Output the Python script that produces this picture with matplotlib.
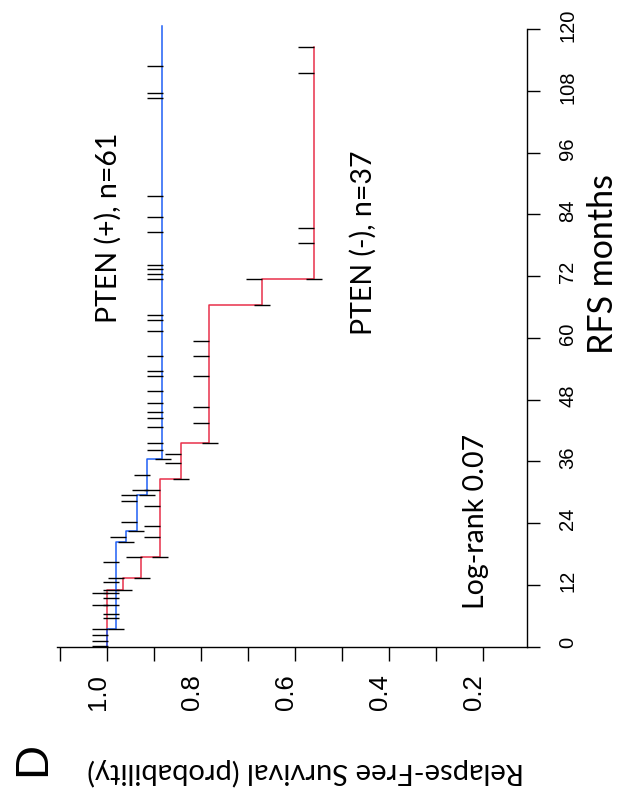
import numpy as np
import matplotlib
matplotlib.use('Agg')
import matplotlib.pyplot as plt
from matplotlib.transforms import ScaledTranslation

# PTEN (+): event times (months) and survival after each event
pos_times = [3.4, 20.25, 22.39, 29.38, 36.38]
pos_surv = [0.981, 0.9585, 0.9364, 0.9138, 0.8819]
pos_end = 120.6

# PTEN (-)
neg_times = [11.04, 13.25, 17.33, 32.49, 39.49, 66.42, 71.36]
neg_surv = [0.9649, 0.9266, 0.8862, 0.8415, 0.7819, 0.6691, 0.5585]
neg_end = 116.6

# censor ticks: month and survival at the upper end of the tick
pos_cens_t = [0.16, 1.01, 2.29, 3.40, 3.40,
              5.48, 6.26, 8.06, 9.37, 10.40, 11.04, 12.48, 16.36,
              20.25, 21.22, 22.39, 24.14, 28.27, 29.38, 29.38, 30.35, 33.27, 36.38,
              38.13, 39.49, 42.60, 44.34, 45.51, 47.32, 49.59, 52.51, 53.48, 56.39,
              61.25, 63.39, 64.36, 71.36, 72.39, 73.36, 74.19, 80.55, 83.40, 87.49,
              106.59, 107.56, 112.75]
pos_cens_s = [1.0321, 1.0321, 1.0321, 1.0321, 0.9974,
              1.0074, 1.0074, 1.0074, 1.0074, 1.0074, 1.0074, 1.0074, 1.0074,
              0.9762, 0.9932, 0.9543, 0.9698, 0.9698, 0.9698, 0.9315, 0.9457, 0.9421, 0.8974,
              0.9151, 0.9151, 0.9151, 0.9151, 0.9151, 0.9151, 0.9151, 0.9151, 0.9151, 0.9151,
              0.9151, 0.9151, 0.9151, 0.9151, 0.9151, 0.9151, 0.9151, 0.9151, 0.9151, 0.9151,
              0.9151, 0.9151, 0.9151]

neg_cens_t = [8.06, 10.40, 11.04, 13.25, 13.25, 17.33, 17.33,
              21.22, 23.36, 27.24, 30.35, 32.49, 35.60, 37.35, 39.49,
              43.37, 46.48, 52.51, 56.39, 59.42, 66.42, 71.36, 71.36,
              78.35, 81.27, 111.45, 116.63]
neg_cens_s = [1.0321, 1.0321, 0.9804, 0.9968, 0.9426, 0.9591, 0.9045,
              0.9209, 0.9209, 0.9209, 0.9209, 0.8598, 0.8762, 0.8762, 0.7974,
              0.8160, 0.8160, 0.8160, 0.8160, 0.8160, 0.6868, 0.7038, 0.5762,
              0.5926, 0.5926, 0.5926, 0.5926]

surv_ticks = [1.1, 1.0, 0.9, 0.8, 0.7, 0.6, 0.5, 0.4, 0.3, 0.2]
surv_labels = ['', '1.0', '', '0.8', '', '0.6', '', '0.4', '', '0.2']
month_ticks = list(range(0, 121, 12))

BLUE = '#1f5ff5'
RED = '#e8304a'
TXT = ['Lato', 'DejaVu Sans']


def km_path(times, surv, end):
    # rotated step curve: survival on x, months on y
    xs, ys = [1.0], [0.0]
    prev = 1.0
    for t, s in zip(times, surv):
        xs += [prev, s]
        ys += [t, t]
        prev = s
    xs.append(prev)
    ys.append(end)
    return xs, ys


W, H = 620, 803
fig = plt.figure(figsize=(W / 100, H / 100), dpi=100)
ax = fig.add_axes([57 / W, 1 - 647.5 / H, 470 / W, 623.5 / H])

x, y = km_path(neg_times, neg_surv, neg_end)
ax.plot(x, y, color=RED, lw=1.1)
x, y = km_path(pos_times, pos_surv, pos_end)
ax.plot(x, y, color=BLUE, lw=1.1)

tick_len = 0.034
for t_arr, s_arr in [(pos_cens_t, pos_cens_s), (neg_cens_t, neg_cens_s)]:
    s_arr = np.array(s_arr)
    ax.hlines(t_arr, s_arr - tick_len, s_arr, color='k', lw=1.0)

ax.set_xlim(1.106, 0.106)
ax.set_ylim(0, 121.2)

ax.spines['left'].set_visible(False)
ax.spines['top'].set_visible(False)
ax.spines['right'].set_bounds(0, 120)
for sp in ['right', 'bottom']:
    ax.spines[sp].set_linewidth(1.0)

ax.yaxis.tick_right()
ax.set_xticks(surv_ticks, labels=surv_labels)
ax.set_yticks(month_ticks, labels=[str(m) for m in month_ticks])
ax.tick_params(axis='x', direction='out', length=10, width=1.0, pad=9)
ax.tick_params(axis='y', direction='out', length=9.5, width=1.0, pad=13)
for lab in ax.xaxis.get_majorticklabels():
    lab.set_fontsize(18.5)
    lab.set_rotation(90)
    lab.set_family('Liberation Sans')
    lab.set_transform(lab.get_transform() + ScaledTranslation(-0.09, 0, fig.dpi_scale_trans))
for tk in ax.yaxis.get_major_ticks():
    lab = tk.label2
    lab.set_fontsize(14.5)
    lab.set_rotation(90)
    lab.set_family('Liberation Sans')
    lab.set_va('center')
    lab.set_transform(lab.get_transform() + ScaledTranslation(0, 0.05, fig.dpi_scale_trans))

ax.text(0.9974, 81.5, 'PTEN (+), n=61', rotation=90, ha='center', va='center',
        fontsize=20.5, family=TXT)
ax.text(0.455, 78.6, 'PTEN (-), n=37', rotation=90, ha='center', va='center',
        fontsize=20.5, family=TXT)
ax.text(0.2145, 24.6, 'Log-rank 0.07', rotation=90, ha='center', va='center',
        fontsize=20.5, family=TXT)

fig.text(603 / W, 1 - 264 / H, 'RFS months', rotation=90, ha='center', va='center',
         fontsize=24.5, family=TXT)
fig.text(306 / W, 1 - 772 / H, 'Relapse-Free Survival (probability)', rotation=180,
         ha='center', va='center', fontsize=21, family=TXT)
fig.text(33 / W, 1 - 759 / H, 'D', rotation=90, ha='center', va='center',
         fontsize=34, family='Liberation Sans')

fig.savefig('out.png', dpi=100)
